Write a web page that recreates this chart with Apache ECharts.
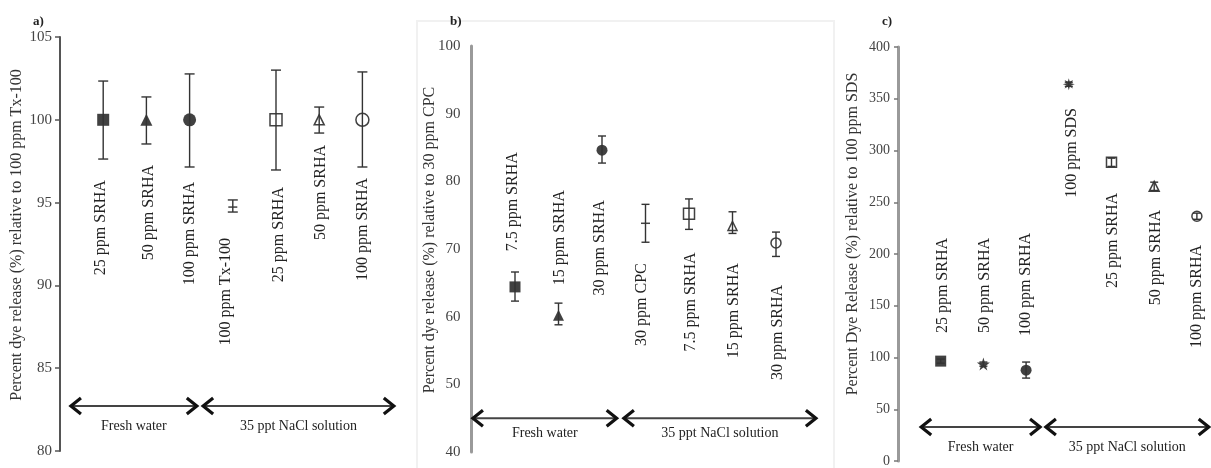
<!DOCTYPE html>
<html>
<head>
<meta charset="utf-8">
<script src="https://cdn.jsdelivr.net/npm/echarts@6/dist/echarts.min.js"></script>
<style>
html,body{margin:0;padding:0;background:#fff;}
#chart{width:1211px;height:468px;}
</style>
</head>
<body>
<div id="chart"></div>
<script>
// ---------------- DATA ----------------
const catsA = ['25 ppm SRHA','50 ppm SRHA','100 ppm SRHA','100 ppm Tx-100','25 ppm SRHA','50 ppm SRHA','100 ppm SRHA'];
const valsA = [100, 100, 100, 94.73, 100, 100, 100];
const lowA  = [97.63, 98.54, 97.15, 94.43, 96.97, 99.2, 97.15];
const highA = [102.34, 101.38, 102.77, 95.16, 103.0, 100.77, 102.89];

const catsB = ['7.5 ppm SRHA','15 ppm SRHA','30 ppm SRHA','30 ppm CPC','7.5 ppm SRHA','15 ppm SRHA','30 ppm SRHA'];
const valsB = [64.4, 60.2, 84.6, 73.8, 75.2, 73.4, 70.9];
const lowB  = [62.3, 58.8, 82.7, 71.0, 72.9, 72.3, 68.9];
const highB = [66.6, 62.0, 86.7, 76.6, 77.4, 75.5, 72.5];

const catsC = ['25 ppm SRHA','50 ppm SRHA','100 ppm SRHA','100 ppm SDS','25 ppm SRHA','50 ppm SRHA','100 ppm SRHA'];
const valsC = [96.5, 93.6, 87.8, 364, 288.6, 265.4, 236.5];
const lowC  = [94.5, 91.6, 80.1, 362, 284.6, 261.4, 233.5];
const highC = [98.5, 95.6, 95.6, 366, 292.6, 269.4, 239.5];

const groupLabels = ['Fresh water', '35 ppt NaCl solution'];
const panelLetters = ['a)', 'b)', 'c)'];
const yTitles = [
  'Percent dye release (%) relative to 100 ppm Tx-100',
  'Percent dye release (%) relative to 30 ppm CPC',
  'Percent Dye Release (%) relative to 100 ppm SDS'
];

// ---------------- LAYOUT (annotation placement, in axis units) ----------------
const labelTopA = [96.36, 97.27, 96.24, 92.86, 95.94, 98.48, 96.49];
const labelTopB = [84.3, 78.7, 77.2, 67.9, 69.5, 67.9, 64.7];
const labelTopC = [215.5, 215.5, 220.3, 341, 259, 242.5, 208.7];
const labelDxA = [-2, 2, 0, -7, 3, 2, 0];
const labelDxB = [-2, 1, -2, -4, 2, 1, 2];
const labelDxC = [2, 1, 0, 3, 1, 2, 0];
const spansA = [[0.23, 3.19, 82.72], [3.29, 7.75, 82.72]];
const spansB = [[0.01, 3.36, 45.0], [3.48, 7.94, 45.0]];
const spansC = [[0.52, 3.35, 32.8], [3.44, 7.3, 32.8]];

// ---------------- STYLE ----------------
const SERIF = '"Liberation Serif", "DejaVu Serif", serif';
const INK = '#111';
const OPEN = 'rgba(255,255,255,0)';
const STAR5 = 'path://M50,0 L61,35 L98,35 L68,57 L79,91 L50,70 L21,91 L32,57 L2,35 L39,35 Z';
const STAR8 = 'path://M50,0 L58,30 L85,15 L70,42 L100,50 L70,58 L85,85 L58,70 L50,100 L42,70 L15,85 L30,58 L0,50 L30,42 L15,15 L42,30 Z';

const symA = [
  {symbol:'rect', size:12, fill:INK},
  {symbol:'triangle', size:12, fill:INK},
  {symbol:'circle', size:13, fill:INK},
  {symbol:'rect', size:[9,1.5], fill:INK},
  {symbol:'rect', size:12, fill:OPEN},
  {symbol:'triangle', size:10, fill:OPEN},
  {symbol:'circle', size:13, fill:OPEN}
];
const symB = [
  {symbol:'rect', size:11, fill:INK},
  {symbol:'triangle', size:11, fill:INK},
  {symbol:'circle', size:11, fill:INK},
  {symbol:'rect', size:[9,1.5], fill:INK},
  {symbol:'rect', size:11, fill:OPEN},
  {symbol:'triangle', size:9, fill:OPEN},
  {symbol:'circle', size:10, fill:OPEN}
];
const symC = [
  {symbol:'rect', size:11, fill:INK},
  {symbol:STAR5, size:13, fill:INK},
  {symbol:'circle', size:11, fill:INK},
  {symbol:STAR8, size:12, fill:INK},
  {symbol:'rect', size:10, fill:OPEN},
  {symbol:'triangle', size:10, fill:OPEN},
  {symbol:'circle', size:10, fill:OPEN}
];

function positions(cats){ return cats.map((_, i) => i + 1); }

function scatterSeries(idx, cats, vals, syms){
  const xs = positions(cats);
  return {
    type:'scatter', xAxisIndex:idx, yAxisIndex:idx, z:3,
    data: vals.map((v, i) => ({
      value:[xs[i], v],
      symbol: syms[i].symbol,
      symbolSize: syms[i].size,
      itemStyle:{color: syms[i].fill, borderColor: INK, borderWidth: syms[i].fill === OPEN ? 1.5 : 0}
    }))
  };
}

function errorSeries(idx, cats, lows, highs, capHalf){
  const xs = positions(cats);
  return {
    type:'custom', xAxisIndex:idx, yAxisIndex:idx, z:4,
    data: lows.map((l, i) => [xs[i], l, highs[i]]),
    renderItem: function(params, api){
      const x = api.value(0);
      const lo = api.coord([x, api.value(1)]);
      const hi = api.coord([x, api.value(2)]);
      const st = {stroke:'#333', lineWidth:1.4};
      return {type:'group', children:[
        {type:'line', shape:{x1:lo[0], y1:lo[1], x2:hi[0], y2:hi[1]}, style:st},
        {type:'line', shape:{x1:lo[0]-capHalf, y1:lo[1], x2:lo[0]+capHalf, y2:lo[1]}, style:st},
        {type:'line', shape:{x1:hi[0]-capHalf, y1:hi[1], x2:hi[0]+capHalf, y2:hi[1]}, style:st}
      ]};
    }
  };
}

function labelSeries(idx, cats, tops, dxs){
  const xs = positions(cats);
  return {
    type:'custom', xAxisIndex:idx, yAxisIndex:idx, z:2,
    data: tops.map((t, i) => [xs[i], t]),
    renderItem: function(params, api){
      const i = params.dataIndex;
      const p = api.coord([api.value(0), api.value(1)]);
      return {type:'text', x:p[0] + dxs[i], y:p[1], rotation:Math.PI/2,
        style:{text:cats[i], fill:'#222', font:'16px ' + SERIF, align:'right', verticalAlign:'middle'}};
    }
  };
}

function arrowSeries(idx, spans, textGap){
  return {
    type:'custom', xAxisIndex:idx, yAxisIndex:idx, z:2,
    data: spans,
    renderItem: function(params, api){
      const a = api.coord([api.value(0), api.value(2)]);
      const b = api.coord([api.value(1), api.value(2)]);
      const h = 8, d = 11;
      const head = {stroke:'#111', lineWidth:3.2, fill:null, lineJoin:'miter'};
      return {type:'group', children:[
        {type:'line', shape:{x1:a[0]+1, y1:a[1], x2:b[0]-1, y2:b[1]}, style:{stroke:'#444', lineWidth:2}},
        {type:'polyline', shape:{points:[[a[0]+d, a[1]-h],[a[0]+1, a[1]],[a[0]+d, a[1]+h]]}, style:head},
        {type:'polyline', shape:{points:[[b[0]-d, b[1]-h],[b[0]-1, b[1]],[b[0]-d, b[1]+h]]}, style:head},
        {type:'text', x:(a[0]+b[0])/2, y:a[1]+textGap,
          style:{text:groupLabels[params.dataIndex], fill:'#222', font:'14px ' + SERIF, align:'center', verticalAlign:'middle'}}
      ]};
    }
  };
}

const chart = echarts.init(document.getElementById('chart'), null, {renderer:'canvas'});

const axisLabelBase = {fontFamily:SERIF, fontSize:15, color:'#444'};

const option = {
  backgroundColor:'#fff',
  animation:false,
  grid:[
    {left:60, top:37, width:345.6, height:414},
    {left:471.5, top:46, width:348, height:406},
    {left:898, top:47, width:311.7, height:414}
  ],
  xAxis:[
    {gridIndex:0, type:'value', min:0, max:8, show:false},
    {gridIndex:1, type:'value', min:0, max:8, show:false},
    {gridIndex:2, type:'value', min:0, max:7.3, show:false}
  ],
  yAxis:[
    {gridIndex:0, type:'value', min:80, max:105, interval:5,
      axisLine:{show:true, lineStyle:{color:'#555', width:2}},
      axisTick:{show:true, length:5, lineStyle:{color:'#555', width:1.5}},
      splitLine:{show:false},
      axisLabel:Object.assign({margin:8}, axisLabelBase)},
    {gridIndex:1, type:'value', min:40, max:100, interval:10,
      axisLine:{show:true, lineStyle:{color:'#9a9a9a', width:3}},
      axisTick:{show:false},
      splitLine:{show:false},
      axisLabel:Object.assign({margin:11}, axisLabelBase)},
    {gridIndex:2, type:'value', min:0, max:400, interval:50,
      axisLine:{show:true, lineStyle:{color:'#9a9a9a', width:3}},
      axisTick:{show:true, length:4, lineStyle:{color:'#777', width:1.5}},
      splitLine:{show:false},
      axisLabel:Object.assign({}, axisLabelBase, {margin:8, fontSize:14})}
  ],
  graphic:[
    {type:'rect', shape:{x:417, y:21, width:417, height:460}, style:{fill:null, stroke:'#f1f1f1', lineWidth:2}, z:0},
    {type:'text', x:33, y:22, style:{text:panelLetters[0], font:'bold 13px ' + SERIF, fill:'#222', verticalAlign:'middle'}},
    {type:'text', x:450, y:22, style:{text:panelLetters[1], font:'bold 13px ' + SERIF, fill:'#222', verticalAlign:'middle'}},
    {type:'text', x:882, y:22, style:{text:panelLetters[2], font:'bold 13px ' + SERIF, fill:'#222', verticalAlign:'middle'}},
    {type:'text', x:17, y:235, rotation:Math.PI/2, style:{text:yTitles[0], font:'16px ' + SERIF, fill:'#333', align:'center', verticalAlign:'middle'}},
    {type:'text', x:430, y:240, rotation:Math.PI/2, style:{text:yTitles[1], font:'16px ' + SERIF, fill:'#333', align:'center', verticalAlign:'middle'}},
    {type:'text', x:853, y:234, rotation:Math.PI/2, style:{text:yTitles[2], font:'16px ' + SERIF, fill:'#333', align:'center', verticalAlign:'middle'}}
  ],
  series:[
    labelSeries(0, catsA, labelTopA, labelDxA),
    arrowSeries(0, spansA, 20),
    scatterSeries(0, catsA, valsA, symA),
    errorSeries(0, catsA, lowA, highA, 5),

    labelSeries(1, catsB, labelTopB, labelDxB),
    arrowSeries(1, spansB, 15),
    scatterSeries(1, catsB, valsB, symB),
    errorSeries(1, catsB, lowB, highB, 4),

    labelSeries(2, catsC, labelTopC, labelDxC),
    arrowSeries(2, spansC, 20),
    scatterSeries(2, catsC, valsC, symC),
    errorSeries(2, catsC, lowC, highC, 4)
  ]
};
chart.setOption(option);
</script>
</body>
</html>
